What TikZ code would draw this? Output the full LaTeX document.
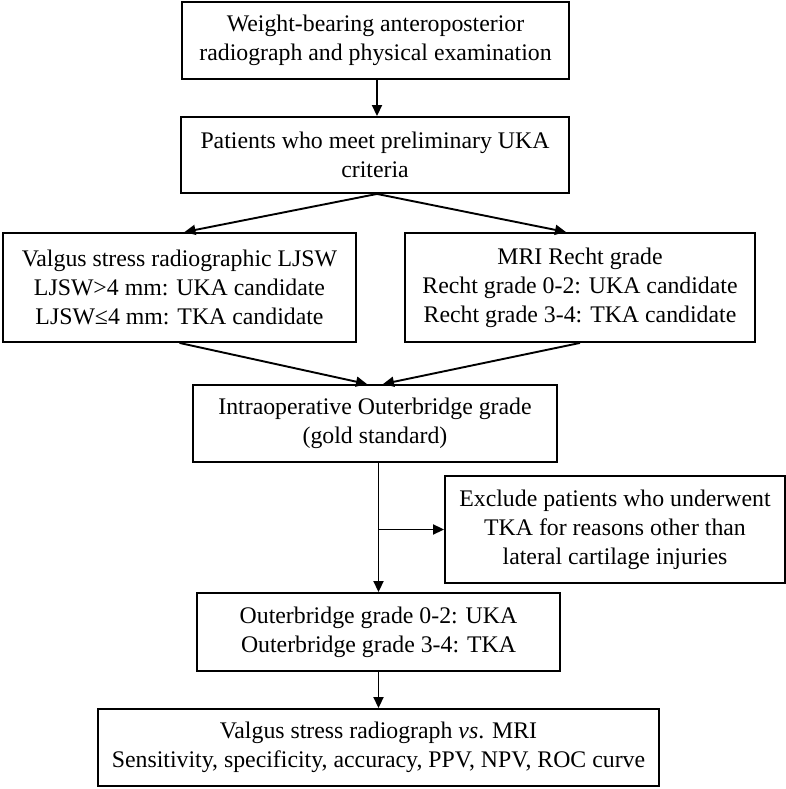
\documentclass[tikz,border=0pt]{standalone}
\usepackage{fontspec}
\setmainfont{Liberation Serif}
\usetikzlibrary{arrows.meta}
\begin{document}
\begin{tikzpicture}[x=1pt,y=1pt,
  box/.style={draw, line width=1.9pt, inner sep=0pt, align=center,
    font=\fontsize{23.8}{29}\selectfont},
  arr/.style={line width=1.9pt, -{Triangle[length=11pt,width=10pt]}}]
\useasboundingbox (0,0) rectangle (786,789);
\node[box, minimum width=387pt, minimum height=77pt] (b1) at (375.5,748.5)
  {Weight-bearing anteroposterior\\radiograph and physical examination};
\node[box, minimum width=388pt, minimum height=76pt] (b2) at (375,634)
  {Patients who meet preliminary UKA\\criteria};
\node[box, minimum width=353pt, minimum height=109pt] (bL) at (179.5,501.5)
  {Valgus stress radiographic LJSW\\LJSW>4 mm: UKA candidate\\LJSW≤4 mm: TKA candidate};
\node[box, minimum width=350pt, minimum height=109pt] (bR) at (580,501.5)
  {MRI Recht grade\\Recht grade 0-2: UKA candidate\\Recht grade 3-4: TKA candidate};
\node[box, minimum width=364pt, minimum height=77pt] (b3) at (375,365.5)
  {Intraoperative Outerbridge grade\\(gold standard)};
\node[box, minimum width=340pt, minimum height=107pt] (ex) at (615,259.5)
  {Exclude patients who underwent\\TKA for reasons other than\\lateral cartilage injuries};
\node[box, minimum width=363pt, minimum height=78pt] (b4) at (378.5,157)
  {Outerbridge grade 0-2: UKA\\Outerbridge grade 3-4: TKA};
\node[box, minimum width=561pt, minimum height=77pt] (b5) at (378.5,41.5)
  {Valgus stress radiograph \textit{vs}. MRI\\Sensitivity, specificity, accuracy, PPV, NPV, ROC curve};
\draw[arr] ([xshift=1.5pt]b1.south) -- ([xshift=1.5pt]b1.south |- b2.north);
\draw[arr] ([xshift=2pt]b2.south) -- ([xshift=5pt]bL.north);
\draw[arr] ([xshift=2pt]b2.south) -- ([xshift=-14pt]bR.north);
\draw[arr] (bL.south) -- ([xshift=-8pt]b3.north);
\draw[arr] (bR.south) -- ([xshift=8pt]b3.north);
\draw[arr] (b4.north |- b3.south) -- (b4.north);
\draw[arr] (b4.north |- ex.west) -- (ex.west);
\draw[arr] (b4.south) -- (b5.north);
\end{tikzpicture}
\end{document}
